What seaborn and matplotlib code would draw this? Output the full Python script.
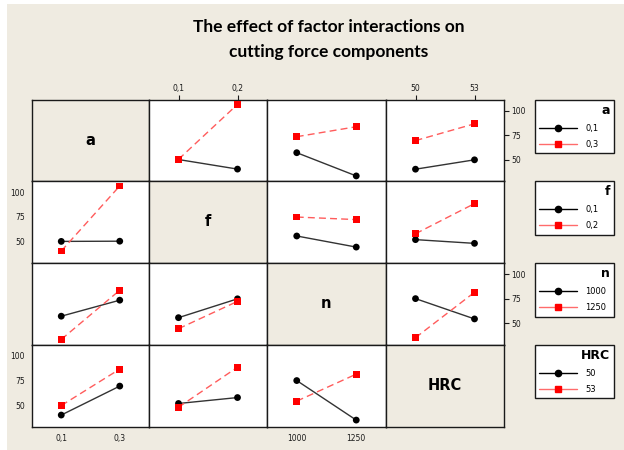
import numpy as np
import pandas as pd
import matplotlib
matplotlib.use('Agg')
import matplotlib.pyplot as plt
import seaborn as sns
from matplotlib.lines import Line2D
from matplotlib.patches import Rectangle

# factors, their levels and tick labels (comma decimals as in the original)
factors = ['a', 'f', 'n', 'HRC']
level_values = {'a': [0.1, 0.3], 'f': [0.1, 0.2], 'n': [1000, 1250], 'HRC': [50, 53]}
level_labels = {'a': ['0,1', '0,3'], 'f': ['0,1', '0,2'], 'n': ['1000', '1250'], 'HRC': ['50', '53']}

# cell means: rows = levels of first factor, cols = levels of second factor
mean_a_f = [[50.0, 40.2], [50.2, 106.5]]
mean_a_n = [[57.0, 33.2], [73.4, 83.6]]
mean_a_hrc = [[40.1, 49.7], [69.4, 86.6]]
mean_f_n = [[55.5, 44.2], [74.8, 72.2]]
mean_f_hrc = [[51.8, 48.0], [57.8, 88.5]]
mean_n_hrc = [[75.0, 54.2], [35.0, 81.5]]

y_ticks = [50, 75, 100]

means = {('a', 'f'): mean_a_f, ('a', 'n'): mean_a_n, ('a', 'HRC'): mean_a_hrc,
         ('f', 'n'): mean_f_n, ('f', 'HRC'): mean_f_hrc, ('n', 'HRC'): mean_n_hrc}


def cell_table(trace, xf):
    if (trace, xf) in means:
        return np.array(means[(trace, xf)])
    return np.array(means[(xf, trace)]).T


rows = []
for tr in factors:
    for xf in factors:
        if tr == xf:
            continue
        tab = cell_table(tr, xf)
        for i in range(2):
            for j in range(2):
                rows.append({'trace': tr, 'xf': xf, 'lvl': str(i),
                             'x': level_values[xf][j], 'y': tab[i, j]})
df = pd.DataFrame(rows)

sns.set_style('white')
plt.rcParams['font.family'] = ['DejaVu Sans']
plt.rcParams['text.color'] = 'black'

W, H = 624, 450
beige = '#efebe1'
fig = plt.figure(figsize=(W / 100, H / 100), dpi=100, facecolor='white')
fig.patches.append(Rectangle((7 / W, 0), 1 - 7 / W, 1 - 4 / H, transform=fig.transFigure,
                             facecolor=beige, edgecolor='none', zorder=-10))

fig.text(329 / W, 1 - 27 / H, 'The effect of factor interactions on', ha='center', va='center',
         fontsize=12.5, weight='bold', color='black', family=['Lato', 'DejaVu Sans'])
fig.text(329 / W, 1 - 52 / H, 'cutting force components', ha='center', va='center',
         fontsize=12.5, weight='bold', color='black', family=['Lato', 'DejaVu Sans'])

xs = [32, 149, 267, 386, 504]
ys = [99.5, 181, 263, 344.5, 427]

for r, tr in enumerate(factors):
    for c, xf in enumerate(factors):
        ax = fig.add_axes([xs[c] / W, 1 - ys[r + 1] / H, (xs[c + 1] - xs[c]) / W, (ys[r + 1] - ys[r]) / H])
        for s in ax.spines.values():
            s.set_linewidth(1.0)
            s.set_color('#1a1a1a')
        lv = level_values[xf]
        pad = (lv[1] - lv[0]) / 2
        ax.set_xlim(lv[0] - pad, lv[1] + pad)
        ax.set_ylim(28, 111.5)
        ax.set_xticks([])
        ax.set_yticks([])
        if r == c:
            ax.set_facecolor(beige)
            ax.text(0.5, 0.5, tr, transform=ax.transAxes, ha='center', va='center',
                    fontsize=10.5, weight='bold', color='black')
            continue
        ax.set_facecolor('white')
        sub = df[(df.trace == tr) & (df.xf == xf)]
        sns.lineplot(data=sub, x='x', y='y', hue='lvl', hue_order=['0', '1'], style='lvl',
                     style_order=['0', '1'], palette=['#333333', '#ff5c5c'],
                     dashes=[(1, 0), (5, 3)], lw=1.0, legend=False, ax=ax)
        sns.scatterplot(data=sub, x='x', y='y', hue='lvl', hue_order=['0', '1'], style='lvl',
                        style_order=['0', '1'], markers=['o', 's'], palette=['black', 'red'],
                        s=24, linewidth=0, legend=False, ax=ax, zorder=3)
        ax.set_xlabel('')
        ax.set_ylabel('')
        ax.set_xticks([])
        ax.set_yticks([])

    # legend for the trace factor of this row
    handles = [Line2D([], [], color='black', lw=1, marker='o', ms=4.5),
               Line2D([], [], color='#ff6b6b', lw=1, marker='s', ms=4.5, mfc='red', mec='red')]
    leg = fig.legend(handles, level_labels[tr], title=tr, loc='upper left',
                     bbox_to_anchor=(535 / W, 1 - ys[r] / H, 79 / W, 0), mode='expand',
                     fontsize=6, title_fontproperties={'weight': 'bold', 'size': 9},
                     alignment='right', fancybox=False, framealpha=1, edgecolor='#1a1a1a',
                     borderaxespad=0, handlelength=4.5, borderpad=0.5, labelspacing=0.85,
                     handletextpad=1.0, labelcolor='black')
    leg.get_title().set_color('black')

# tick labels on the outer edges, alternating sides
axes = np.array(fig.axes).reshape(4, 4)
tick_kw = dict(length=3.5, width=0.8, labelsize=5.5, pad=1.5, colors='#1a1a1a')
for c, xf in enumerate(factors):
    ax = axes[3, c] if c % 2 == 0 else axes[0, c]
    ax.set_xticks(level_values[xf])
    ax.set_xticklabels(level_labels[xf])
    if c % 2 == 1:
        ax.xaxis.tick_top()
    ax.tick_params(axis='x', **tick_kw)
for r in range(4):
    ax = axes[r, 3] if r % 2 == 0 else axes[r, 0]
    ax.set_yticks(y_ticks)
    if r % 2 == 0:
        ax.yaxis.tick_right()
    ax.tick_params(axis='y', **tick_kw)

fig.savefig('out.png', dpi=100, facecolor=fig.get_facecolor())
